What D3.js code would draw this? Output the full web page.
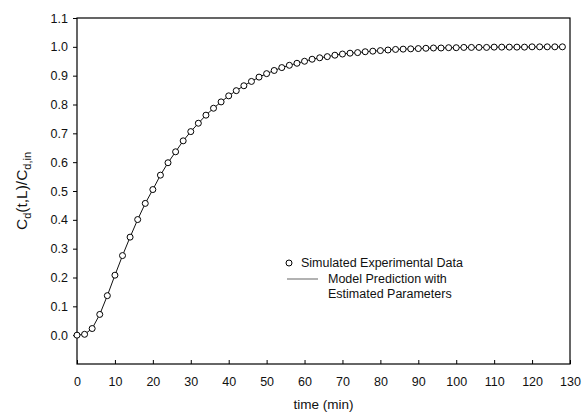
<!DOCTYPE html>
<html><head><meta charset="utf-8">
<script src="https://cdn.jsdelivr.net/npm/d3@7"></script>
<style>body{margin:0;background:#fff}svg{display:block;font-family:Arial,"Liberation Sans",sans-serif}</style>
</head><body><svg id="c" width="584" height="416"></svg>
<script>
const times = [0,2,4,6,8,10,12,14,16,18,20,22,24,26,28,30,32,34,36,38,40,42,44,46,48,50,52,54,56,58,60,62,64,66,68,70,72,74,76,78,80,82,84,86,88,90,92,94,96,98,100,102,104,106,108,110,112,114,116,118,120,122,124,126,128];
const simulatedData = [0.000,0.003,0.023,0.072,0.137,0.208,0.276,0.340,0.401,0.457,0.505,0.555,0.598,0.636,0.674,0.706,0.735,0.763,0.787,0.809,0.830,0.848,0.865,0.880,0.895,0.907,0.918,0.928,0.936,0.943,0.950,0.957,0.962,0.966,0.971,0.975,0.978,0.980,0.983,0.985,0.987,0.989,0.991,0.992,0.993,0.994,0.995,0.996,0.996,0.997,0.997,0.998,0.998,0.998,0.998,0.999,0.999,0.999,0.999,0.999,1.000,1.000,1.000,1.000,1.000];
const modelPrediction = simulatedData.slice();
const xTicks = [0,10,20,30,40,50,60,70,80,90,100,110,120,130];
const yTicks = [0.0,0.1,0.2,0.3,0.4,0.5,0.6,0.7,0.8,0.9,1.0,1.1];
const legendLabels = ["Simulated Experimental Data","Model Prediction with","Estimated Parameters"];

const svg = d3.select("#c");
const m = {l:77, r:14, t:18, b:52};
const W = 584, H = 416;
const x = d3.scaleLinear().domain([0,130]).range([m.l, W-m.r]);
const y = d3.scaleLinear().domain([-0.1,1.1]).range([H-m.b, m.t]);

// frame
svg.append("rect").attr("x",m.l).attr("y",m.t).attr("width",W-m.r-m.l).attr("height",H-m.b-m.t)
  .attr("fill","none").attr("stroke","#000").attr("stroke-width",1.2);

// x axis (ticks inward)
const xa = svg.append("g").attr("transform",`translate(0,${H-m.b})`)
  .call(d3.axisBottom(x).tickValues(xTicks).tickSizeInner(-4).tickSizeOuter(0).tickPadding(13).tickFormat(d3.format("d")));
xa.select(".domain").remove();
xa.selectAll("text").attr("font-size",12.5).attr("fill","#111");
xa.selectAll("line").attr("stroke","#000");

// y axis (ticks outward)
const ya = svg.append("g").attr("transform",`translate(${m.l},0)`)
  .call(d3.axisLeft(y).tickValues(yTicks).tickSizeInner(4).tickSizeOuter(0).tickPadding(5).tickFormat(d3.format(".1f")));
ya.select(".domain").remove();
ya.selectAll("text").attr("font-size",12.5).attr("fill","#111");
ya.selectAll("line").attr("stroke","#000");

// labels
svg.append("text").attr("x",(m.l+W-m.r)/2).attr("y",409).attr("text-anchor","middle")
  .attr("font-size",13.5).attr("fill","#111").text("time (min)");
const yl = svg.append("text").attr("transform",`translate(27,${(m.t+H-m.b)/2}) rotate(-90)`)
  .attr("text-anchor","middle").attr("font-size",15.5).attr("fill","#111");
yl.append("tspan").text("C");
yl.append("tspan").attr("font-size",11).attr("dy",4).text("d");
yl.append("tspan").attr("dy",-4).text("(t,L)/C");
yl.append("tspan").attr("font-size",11).attr("dy",4).text("d,in");

// model line
const line = d3.line().x((d,i)=>x(times[i])).y(d=>y(d));
svg.append("path").datum(modelPrediction).attr("d",line).attr("fill","none")
  .attr("stroke","#111").attr("stroke-width",1);

// data points
svg.append("g").selectAll("circle").data(simulatedData).join("circle")
  .attr("cx",(d,i)=>x(times[i])).attr("cy",d=>y(d)).attr("r",3)
  .attr("fill","#fff").attr("stroke","#000").attr("stroke-width",1);

// legend
const lg = svg.append("g");
lg.append("circle").attr("cx",289).attr("cy",263).attr("r",3).attr("fill","#fff").attr("stroke","#000");
lg.append("text").attr("x",301).attr("y",267).attr("font-size",12.5).attr("fill","#111").text(legendLabels[0]);
lg.append("line").attr("x1",287).attr("x2",318).attr("y1",279).attr("y2",279).attr("stroke","#999").attr("stroke-width",1.5);
lg.append("text").attr("x",328).attr("y",283).attr("font-size",12.5).attr("fill","#111").text(legendLabels[1]);
lg.append("text").attr("x",328).attr("y",298).attr("font-size",12.5).attr("fill","#111").text(legendLabels[2]);
</script></body></html>
